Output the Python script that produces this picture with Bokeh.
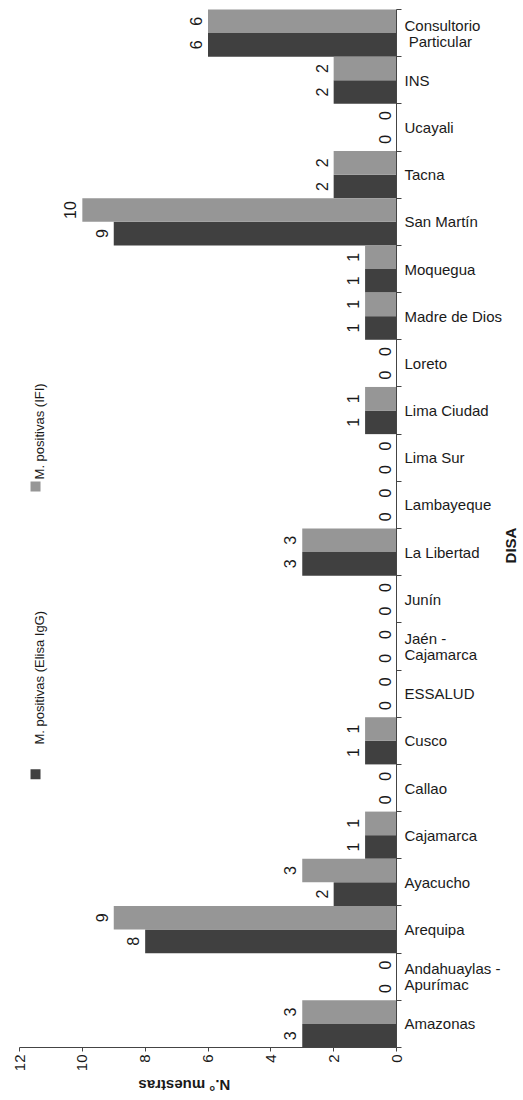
import numpy as np
from bokeh.plotting import figure
from bokeh.models import Range1d, FixedTicker, ColumnDataSource, Label, LinearAxis
from bokeh.core.properties import value
from bokeh.embed import file_html
from bokeh.resources import INLINE

categories = ["Amazonas", "Andahuaylas  -\nApurímac", "Arequipa", "Ayacucho", "Cajamarca",
              "Callao", "Cusco", "ESSALUD", "Jaén -\nCajamarca", "Junín", "La Libertad",
              "Lambayeque", "Lima Sur", "Lima Ciudad", "Loreto", "Madre de Dios", "Moquegua",
              "San Martín", "Tacna", "Ucayali", "INS", "Consultorio\n\u00a0Particular"]
elisa = [3, 0, 8, 2, 1, 0, 1, 0, 0, 0, 3, 0, 0, 1, 0, 1, 1, 9, 2, 0, 2, 6]
ifi = [3, 0, 9, 3, 1, 0, 1, 0, 0, 0, 3, 0, 0, 1, 0, 1, 1, 10, 2, 0, 2, 6]
value_ticks = [0, 2, 4, 6, 8, 10, 12]
series_names = ["M. positivas (Elisa IgG)", "M. positivas (IFI)"]
axis_title = "N.° muestras"
cat_title = "DISA"

FONT = "Liberation Sans"
DARK = "#404040"
GREY = "#969696"
TXT = "#1a1a1a"
AX = "#444444"

n = len(categories)
idx = np.arange(n)
vmax = max(value_ticks)

# layout: canvas size and where the plotting area (value 0..12, categories 0..n) sits in it
W, H = 520, 1096
AREA_LEFT, AREA_RIGHT = 19, 396      # canvas px of value 12 and value 0
AREA_TOP, AREA_BOTTOM = 9, 1047      # canvas px of top / bottom category edge
sx = (AREA_RIGHT - AREA_LEFT) / vmax
sy = (AREA_BOTTOM - AREA_TOP) / n
x_range = Range1d(AREA_RIGHT / sx, -(W - AREA_RIGHT) / sx)
y_range = Range1d(-(H - AREA_BOTTOM) / sy, AREA_BOTTOM / sy)

p = figure(width=W, height=H, x_range=x_range, y_range=y_range,
           output_backend="svg", toolbar_location=None,
           x_axis_location=None, y_axis_location=None,
           min_border=0, min_border_left=0, min_border_right=0, min_border_top=0, min_border_bottom=0)
p.outline_line_color = None
p.grid.visible = False
p.background_fill_color = "white"

src_e = ColumnDataSource(dict(y=idx + 0.25, v=elisa, t=[str(v) for v in elisa]))
src_i = ColumnDataSource(dict(y=idx + 0.75, v=ifi, t=[str(v) for v in ifi]))

p.hbar(y="y", left=0, right="v", height=0.5, fill_color=DARK, line_color=None, source=src_e)
p.hbar(y="y", left=0, right="v", height=0.5, fill_color=GREY, line_color=None, source=src_i)

for src in (src_e, src_i):
    p.text(x="v", y="y", text="t", angle=np.pi / 2, text_align="center", text_baseline="bottom",
           x_offset=-6, text_font=value(FONT), text_font_size="16px", text_color=TXT, source=src)

# bottom (value) axis, fixed at category 0
xa = LinearAxis(fixed_location=0, bounds=(0, vmax))
xa.ticker = FixedTicker(ticks=value_ticks)
xa.major_label_orientation = np.pi / 2
xa.major_tick_out = 4
xa.major_tick_in = 0
xa.minor_tick_out = 0
xa.minor_tick_in = 0
xa.axis_line_color = AX
xa.major_tick_line_color = AX
xa.major_label_text_font = FONT
xa.major_label_text_font_size = "15px"
xa.major_label_text_color = TXT
xa.major_label_standoff = 3
p.add_layout(xa, "below")

# right (category) axis, fixed at value 0
ya = LinearAxis(fixed_location=0, bounds=(0, n))
ya.ticker = FixedTicker(ticks=[float(i) + 0.5 for i in idx], minor_ticks=[float(i) for i in range(n + 1)])
ya.major_label_overrides = {float(i) + 0.5: c for i, c in zip(idx, categories)}
ya.major_tick_out = 0
ya.major_tick_in = 0
ya.minor_tick_out = 5
ya.minor_tick_in = 0
ya.axis_line_color = AX
ya.minor_tick_line_color = AX
ya.major_label_standoff = 3
ya.major_label_text_font = FONT
ya.major_label_text_font_size = "15px"
ya.major_label_text_line_height = 0.95
ya.major_label_text_color = TXT
p.add_layout(ya, "right")

# axis titles
p.add_layout(Label(x=6.75, y=-0.8, text=axis_title, angle=np.pi, text_align="center",
                   text_baseline="middle", text_font=FONT, text_font_size="15px",
                   text_font_style="bold", text_color=TXT))
p.add_layout(Label(x=-3.63, y=10.64, text=cat_title, angle=np.pi / 2, text_align="center",
                   text_baseline="middle", text_font=FONT, text_font_size="15px",
                   text_font_style="bold", text_color=TXT))

# legend (rotated)
p.scatter(x=[11.49], y=[5.79], marker="square", size=10, fill_color=DARK, line_color=None)
p.scatter(x=[11.49], y=[11.89], marker="square", size=10, fill_color=GREY, line_color=None)
p.add_layout(Label(x=11.36, y=6.42, text=series_names[0], angle=np.pi / 2, text_align="left",
                   text_baseline="middle", text_font=FONT, text_font_size="13px", text_color=TXT))
p.add_layout(Label(x=11.36, y=12.04, text=series_names[1], angle=np.pi / 2, text_align="left",
                   text_baseline="middle", text_font=FONT, text_font_size="13px", text_color=TXT))

open("out.html", "w").write(file_html(p, INLINE))
